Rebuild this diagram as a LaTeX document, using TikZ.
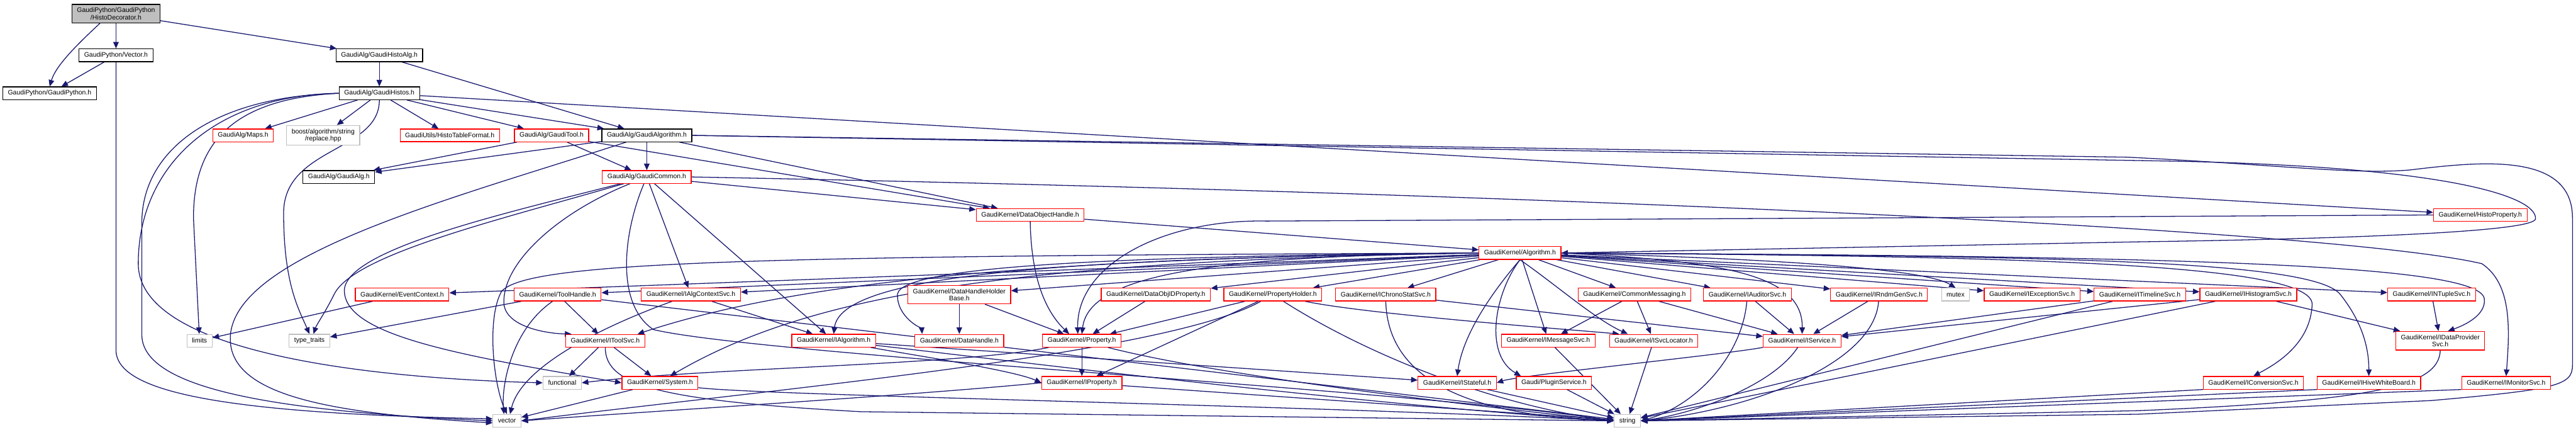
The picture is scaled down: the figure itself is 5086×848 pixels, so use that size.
\documentclass[tikz,border=0pt]{standalone}
\usepackage{fontspec}
\setmainfont{Liberation Sans}
\usetikzlibrary{arrows.meta,backgrounds}
\definecolor{edgeblue}{HTML}{191970}
\definecolor{grey75}{HTML}{BFBFBF}
\tikzset{
  hdr/.style={rectangle,draw,fill=white,line width=1.5pt,inner xsep=10pt,inner ysep=6.5pt,
    minimum height=25pt,align=center,font=\fontsize{13}{14}\selectfont},
  trunc/.style={hdr,draw=red},
  plain/.style={hdr,draw=black},
  sys/.style={hdr,draw=grey75},
  cur/.style={hdr,draw=black,fill=grey75},
  dep/.style={draw=edgeblue,line width=1.6pt,-{Triangle[length=13pt,width=11pt]}}
}
\begin{document}
\begin{tikzpicture}[x=1pt,y=-1pt]
\useasboundingbox (0,0) rectangle (5086,848);
% top part
\node[cur] (HD) at (229,27) {GaudiPython/GaudiPython\\/HistoDecorator.h};
\node[plain] (Vec) at (229,109) {GaudiPython/Vector.h};
\node[plain] (GP) at (98,184) {GaudiPython/GaudiPython.h};
\node[plain] (GHA) at (749,109) {GaudiAlg/GaudiHistoAlg.h};
\node[plain] (GHs) at (749,184) {GaudiAlg/GaudiHistos.h};
\node[trunc] (Maps) at (480,267) {GaudiAlg/Maps.h};
\node[sys] (boost) at (638,267) {boost/algorithm/string\\/replace.hpp};
\node[trunc] (HTF) at (888,267) {GaudiUtils/HistoTableFormat.h};
\node[trunc] (GTool) at (1089,267) {GaudiAlg/GaudiTool.h};
\node[plain] (GAlgm) at (1277,267) {GaudiAlg/GaudiAlgorithm.h};
\node[plain] (GAlg) at (669,349) {GaudiAlg/GaudiAlg.h};
\node[trunc] (GCom) at (1277,349) {GaudiAlg/GaudiCommon.h};
\node[trunc] (DOH) at (2034,424) {GaudiKernel/DataObjectHandle.h};
\node[trunc] (HProp) at (4897,424) {GaudiKernel/HistoProperty.h};
\node[trunc] (Algo) at (3001,499) {GaudiKernel/Algorithm.h};
% row of kernel headers
\node[trunc] (EvCtx) at (794,581) {GaudiKernel/EventContext.h};
\node[trunc] (ToolH) at (1101,581) {GaudiKernel/ToolHandle.h};
\node[trunc] (IACtx) at (1364,581) {GaudiKernel/IAlgContextSvc.h};
\node[trunc] (DHHB) at (1894,581) {GaudiKernel/DataHandleHolder\\Base.h};
\node[trunc] (DOIDP) at (2282,581) {GaudiKernel/DataObjIDProperty.h};
\node[trunc] (PropH) at (2513,581) {GaudiKernel/PropertyHolder.h};
\node[trunc] (IChrono) at (2736,581) {GaudiKernel/IChronoStatSvc.h};
\node[trunc] (CMsg) at (3227,581) {GaudiKernel/CommonMessaging.h};
\node[trunc] (IAud) at (3450,581) {GaudiKernel/IAuditorSvc.h};
\node[trunc] (IRndm) at (3710,581) {GaudiKernel/IRndmGenSvc.h};
\node[sys] (mutex) at (3861,581) {mutex};
\node[trunc] (IExc) at (4012,581) {GaudiKernel/IExceptionSvc.h};
\node[trunc] (ITime) at (4225,581) {GaudiKernel/ITimelineSvc.h};
\node[trunc] (IHist) at (4439,581) {GaudiKernel/IHistogramSvc.h};
\node[trunc] (INTup) at (4801,581) {GaudiKernel/INTupleSvc.h};
% next row
\node[sys] (limits) at (394,672) {limits};
\node[sys] (traits) at (611,672) {type\_traits};
\node[trunc] (IToolSvc) at (1195,672) {GaudiKernel/IToolSvc.h};
\node[trunc] (IAlgo) at (1646,672) {GaudiKernel/IAlgorithm.h};
\node[trunc] (DHandle) at (1894,672) {GaudiKernel/DataHandle.h};
\node[trunc] (Prop) at (2136,672) {GaudiKernel/Property.h};
\node[trunc] (IMsg) at (3057,672) {GaudiKernel/IMessageSvc.h};
\node[trunc] (ISvcLoc) at (3265,672) {GaudiKernel/ISvcLocator.h};
\node[trunc] (IServ) at (3558,672) {GaudiKernel/IService.h};
\node[trunc] (IDProv) at (4818,672) {GaudiKernel/IDataProvider\\Svc.h};
\node[sys] (functional) at (1110,755) {functional};
\node[trunc] (System) at (1303,755) {GaudiKernel/System.h};
\node[trunc] (IProp) at (2136,755) {GaudiKernel/IProperty.h};
\node[trunc] (IStateful) at (2877,755) {GaudiKernel/IStateful.h};
\node[trunc] (Plugin) at (3068,755) {Gaudi/PluginService.h};
\node[trunc] (IConv) at (4449,755) {GaudiKernel/IConversionSvc.h};
\node[trunc] (IHive) at (4677,755) {GaudiKernel/IHiveWhiteBoard.h};
\node[trunc] (IMon) at (4948,755) {GaudiKernel/IMonitorSvc.h};
\node[sys] (vector) at (1001,830) {vector};
\node[sys] (string) at (3213,830) {string};

\begin{pgfonlayer}{background}
\foreach \a/\b in {HD/Vec,HD/GHA,Vec/GP,GHA/GHs,GHA/GAlgm,GHs/Maps,GHs/boost,GHs/HTF,
  GHs/GTool,GHs/GAlgm,GHs/HProp,GTool/GAlg,GTool/GCom,GTool/DOH,GAlgm/GAlg,GAlgm/GCom,
  GAlgm/DOH,GCom/DOH,GCom/IACtx,GCom/IAlgo,DOH/Algo,Algo/EvCtx,Algo/ToolH,Algo/IACtx,
  Algo/DHHB,Algo/DOIDP,Algo/PropH,Algo/IChrono,Algo/CMsg,Algo/IMsg,Algo/IAud,Algo/IRndm,
  Algo/IExc,Algo/ITime,Algo/IHist,Algo/INTup,EvCtx/limits,ToolH/IToolSvc,ToolH/traits,
  ToolH/string,IACtx/IAlgo,DHHB/DHandle,DHHB/Prop,DOIDP/Prop,PropH/Prop,PropH/IProp,
  CMsg/IMsg,CMsg/ISvcLoc,CMsg/IServ,IChrono/IServ,IAud/IServ,IRndm/IServ,ITime/IServ,
  IHist/IServ,IHist/IDProv,INTup/IDProv,IToolSvc/functional,IToolSvc/System,Prop/IProp,
  IAlgo/IStateful,System/vector,IMsg/string,ISvcLoc/string,IStateful/string,Plugin/string,
  ITime/string,IHist/string,IProp/string}
  \draw[dep] (\a) -- (\b);
% curved ones
\draw[dep] ([xshift=56pt]HD.south west) .. controls (150,90) and (110,130) .. (GP.north);
\draw[dep] (Vec.south) -- (229,690) .. controls (229,770) and (420,815) .. ([yshift=4pt]vector.west);
\draw[dep] (GHs.west) .. controls (450,195) and (382,290) .. (382,430) -- (limits);
\draw[dep] (GHs.west) .. controls (430,190) and (280,290) .. (280,440) -- (280,660)
  .. controls (280,770) and (560,812) .. (vector.west);
\draw[dep] (GHs.west) .. controls (420,188) and (273,330) .. (273,520)
  .. controls (273,690) and (700,745) .. (functional.west);
\draw[dep] (GHs.south) .. controls (749,300) and (560,290) .. (560,420)
  .. controls (560,560) and (590,610) .. (traits.north);
\draw[dep] (GAlgm) .. controls (900,390) and (470,500) .. (455,660)
  .. controls (445,780) and (650,815) .. ([yshift=-4pt]vector.west);
\draw[dep] (GAlgm.east) -- (4300,318) .. controls (4850,330) and (5010,390) .. (5006,432)
  .. controls (5000,455) and (4700,470) .. (4220,477) -- (Algo.east);
\draw[dep] (GAlgm.east) -- (4200,310) .. controls (4500,325) and (4650,345) .. (4760,335)
  .. controls (4900,318) and (5079,300) .. (5079,430) -- (5079,720)
  .. controls (5079,760) and (5050,768) .. (4800,790) -- (4220,817) -- (string.east);
\draw[dep] (GCom) .. controls (1000,430) and (700,500) .. (660,580)
  .. controls (640,620) and (625,640) .. ([xshift=8pt]traits.north);
\draw[dep] (GCom) .. controls (1000,420) and (690,490) .. (680,570)
  .. controls (675,660) and (900,700) .. (System.west);
\draw[dep] (GCom) .. controls (1100,420) and (990,520) .. (995,600)
  .. controls (1000,645) and (1080,658) .. ([xshift=12pt]IToolSvc.north west);
\draw[dep] (GCom) .. controls (1230,460) and (1215,600) .. (1290,650)
  .. controls (1500,700) and (2800,770) .. (string.west);
\draw[dep] (GCom.east) .. controls (3000,380) and (4600,450) .. (4900,520)
  .. controls (4960,560) and (4955,650) .. (IMon.north);
\draw[dep] (DOH.south) .. controls (2036,540) and (2060,610) .. ([xshift=-25pt]Prop.north);
\draw[dep] (HProp.west) -- (2500,436) .. controls (2300,432) and (2125,520) .. ([xshift=-8pt]Prop.north);
\draw[dep] (Algo.west) .. controls (2400,505) and (2150,540) .. (Prop.north);
\draw[dep] (Algo.west) .. controls (2200,505) and (1780,525) .. (1772,580)
  .. controls (1770,625) and (1820,650) .. ([xshift=15pt]DHandle.north west);
\draw[dep] (Algo.west) .. controls (1500,505) and (1040,515) .. (990,575)
  .. controls (960,630) and (975,760) .. (vector.north);
\draw[dep] (Algo.west) .. controls (2000,510) and (1560,560) .. ([xshift=-15pt]IToolSvc.north east);
\draw[dep] (Algo.west) .. controls (2100,510) and (1660,540) .. (IAlgo.north);
\draw[dep] (Algo.west) .. controls (2000,515) and (1600,580) .. ([xshift=20pt]System.north);
\draw[dep] (Algo.east) .. controls (3400,515) and (3560,540) .. (IServ.north);
\draw[dep] (Algo.east) .. controls (3500,510) and (3800,530) .. (mutex.north);
\draw[dep] (Algo.east) .. controls (4000,505) and (4565,520) .. (4565,600)
  .. controls (4562,680) and (4490,720) .. (IConv.north);
\draw[dep] (Algo.east) .. controls (4000,505) and (4560,510) .. (4620,580)
  .. controls (4660,630) and (4677,680) .. (IHive.north);
\draw[dep] (Algo.east) .. controls (4300,505) and (4900,520) .. (4905,590)
  .. controls (4908,620) and (4870,640) .. ([xshift=15pt]IDProv.north);
\draw[dep] (Algo.south) .. controls (2960,560) and (2890,650) .. (IStateful.north);
\draw[dep] (Algo.south) .. controls (2950,580) and (2930,700) .. ([xshift=10pt]Plugin.north west);
\draw[dep] (Algo.south) .. controls (3070,560) and (3150,630) .. ([xshift=37pt]ISvcLoc.north west);
\draw[dep] ([xshift=-10pt]ToolH.south) .. controls (1010,650) and (990,760) .. ([xshift=-6pt]vector.north);
\draw[dep] (IACtx) .. controls (1200,640) and (1030,720) .. ([xshift=6pt]vector.north);
\draw[dep] (PropH) .. controls (2700,620) and (3100,650) .. ([xshift=20pt]ISvcLoc.north west);
\draw[dep] (PropH) .. controls (2700,700) and (2950,800) .. (string.west);
\draw[dep] (PropH) .. controls (2300,700) and (1500,770) .. (vector.east);
\draw[dep] (IChrono.south) .. controls (2740,750) and (2900,820) .. (string.west);
\draw[dep] (IAud) .. controls (3440,700) and (3350,800) .. (string.east);
\draw[dep] (IRndm) .. controls (3700,720) and (3450,810) .. (string.east);
\draw[dep] (IToolSvc.south) .. controls (1195,760) and (1300,790) .. (1700,812) -- (string.west);
\draw[dep] (IAlgo) .. controls (1900,700) and (2700,800) .. (string.west);
\draw[dep] (IAlgo) .. controls (1800,700) and (2000,730) .. (IProp.west);
\draw[dep] (IProp.west) .. controls (1800,780) and (1300,810) .. (vector.east);
\draw[dep] (Prop) .. controls (2400,740) and (2900,800) .. (string.west);
\draw[dep] (Prop) .. controls (1900,720) and (1400,725) .. (functional.east);
\draw[dep] (System) .. controls (1500,780) and (2600,800) .. (string.west);
\draw[dep] (IServ) .. controls (3500,760) and (3350,815) .. (string.east);
\draw[dep] (IServ.south west) .. controls (3400,700) and (3000,740) .. (IStateful.east);
\draw[dep] (IDProv.south) .. controls (4815,760) and (4700,790) .. (4220,810) -- (string.east);
\draw[dep] (IConv.south west) -- (string.east);
\draw[dep] (IHive.south west) -- (string.east);
\draw[dep] (IMon.south west) -- (string.east);
\end{pgfonlayer}
\end{tikzpicture}
\end{document}
